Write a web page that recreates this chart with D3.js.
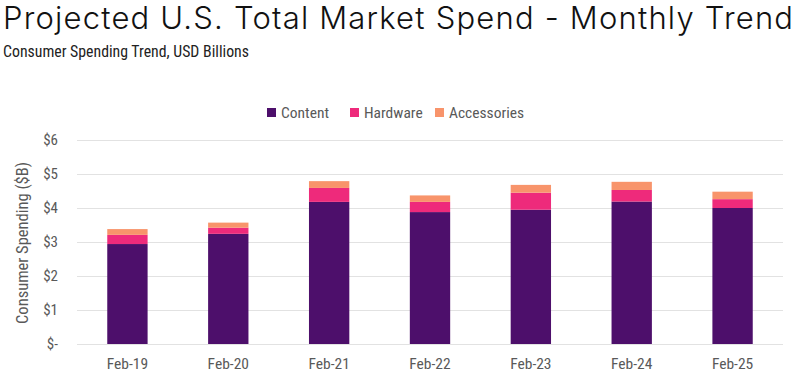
<!DOCTYPE html>
<html>
<head>
<meta charset="utf-8">
<script src="https://cdn.jsdelivr.net/npm/d3@7"></script>
<style>
  body { margin: 0; background: #fff; }
  svg { display: block; }
</style>
</head>
<body>
<div id="chart"></div>
<script>
// Chart Data
const months = ["Feb-19", "Feb-20", "Feb-21", "Feb-22", "Feb-23", "Feb-24", "Feb-25"];
const content = [2.94, 3.24, 4.18, 3.88, 3.95, 4.19, 4.00];
const hardware = [0.27, 0.18, 0.41, 0.30, 0.50, 0.34, 0.26];
const accessories = [0.17, 0.15, 0.20, 0.19, 0.23, 0.24, 0.22];
const seriesNames = ["Content", "Hardware", "Accessories"];
const yTicks = [0, 1, 2, 3, 4, 5, 6];

// Dimensions For SVG Element
let w = 800, h = 376;
let margin = { left: 77, right: 17, top: 140, bottom: 32 };
let colors = ["#4d0f6b", "#ee2a7b", "#f8946b"];
let narrow = "'Roboto Condensed', 'Liberation Sans Narrow', 'DejaVu Sans Condensed', sans-serif";

let svg = d3.select("#chart").append("svg").attr("width", w).attr("height", h);

// Title & Subtitle (Spread To Reference Width)
let title = svg.append("text").attr("x", 3).attr("y", 28.5)
  .attr("font-family", "Inter, 'Open Sans', sans-serif").attr("font-weight", 350)
  .attr("font-size", 31).attr("fill", "#111")
  .text("Projected U.S. Total Market Spend - Monthly Trend");
let tw = title.node().getComputedTextLength();
let chars = title.text().length - 1;
title.attr("letter-spacing", ((790 - tw) / chars).toFixed(2));

svg.append("text").attr("x", 3).attr("y", 57)
  .attr("font-family", narrow).attr("font-size", 15.8).attr("fill", "#222")
  .text("Consumer Spending Trend, USD Billions");

// Scales
let x = d3.scaleBand().domain(months).range([margin.left, w - margin.right]).paddingInner(0.6).paddingOuter(0.3);
let y = d3.scaleLinear().domain([0, 6]).range([h - margin.bottom, margin.top]);

// Gridlines
svg.append("g").selectAll("line").data(yTicks).enter().append("line")
  .attr("x1", margin.left).attr("x2", w - margin.right)
  .attr("y1", d => Math.round(y(d)) + 0.5).attr("y2", d => Math.round(y(d)) + 0.5)
  .attr("stroke", "#e2e2e2").attr("stroke-width", 1);

// Y Tick Labels
svg.append("g").selectAll("text").data(yTicks).enter().append("text")
  .attr("x", 58).attr("y", d => y(d) + 5).attr("text-anchor", "end")
  .attr("font-family", narrow).attr("font-size", 15).attr("fill", "#595959")
  .text(d => d == 0 ? "$-" : "$" + d);

// Y Axis Title
svg.append("text").attr("transform", "translate(28," + (y(3) + 1) + ") rotate(-90)")
  .attr("text-anchor", "middle")
  .attr("font-family", narrow).attr("font-size", 16.5).attr("fill", "#595959")
  .text("Consumer Spending ($B)");

// Stacked Bars
let table = months.map((m, i) => ({ month: m, Content: content[i], Hardware: hardware[i], Accessories: accessories[i] }));
let stacked = d3.stack().keys(seriesNames)(table);
svg.append("g").selectAll("g").data(stacked).enter().append("g")
  .attr("fill", (d, i) => colors[i])
  .selectAll("rect").data(d => d).enter().append("rect")
  .attr("x", d => x(d.data.month))
  .attr("width", x.bandwidth())
  .attr("y", d => y(d[1]))
  .attr("height", d => y(d[0]) - y(d[1]));

// X Labels
svg.append("g").selectAll("text").data(months).enter().append("text")
  .attr("x", d => x(d) + x.bandwidth() / 2).attr("y", 369).attr("text-anchor", "middle")
  .attr("font-family", narrow).attr("font-size", 15.5).attr("fill", "#595959")
  .text(d => d);

// Legend
let legendX = [267, 350, 435];
let legend = svg.append("g").selectAll("g").data(seriesNames).enter().append("g")
  .attr("transform", (d, i) => "translate(" + legendX[i] + ",108)");
legend.append("rect").attr("width", 9).attr("height", 9).attr("fill", (d, i) => colors[i]);
legend.append("text").attr("x", 14).attr("y", 10)
  .attr("font-family", narrow).attr("font-size", 15.5).attr("fill", "#595959")
  .text(d => d);
</script>
</body>
</html>
